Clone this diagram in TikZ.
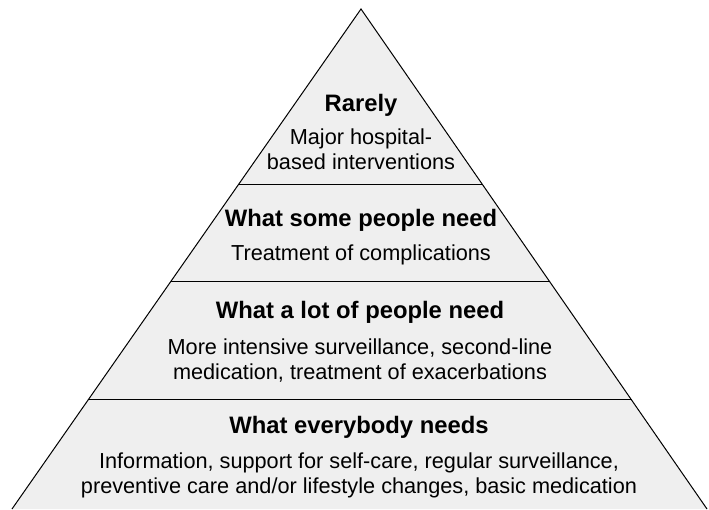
\documentclass[tikz,border=0pt]{standalone}
\usepackage{fontspec}
\setmainfont{Liberation Sans}
\usetikzlibrary{calc}
\definecolor{pyrfill}{RGB}{239,239,239}

\begin{document}
\begin{tikzpicture}[
  x=1pt,y=-1pt,
  head/.style={anchor=base,inner sep=0pt,font=\fontsize{23.8}{28}\selectfont\bfseries},
  desc/.style={anchor=base,inner sep=0pt,align=center,font=\fontsize{21.7}{25}\selectfont},
  edge/.style={line width=1pt}
]
  \useasboundingbox (0,0) rectangle (709,510);
  \coordinate (apex) at (361,9);
  \coordinate (bl) at (12,509);
  \coordinate (br) at (707,509);
  \fill[pyrfill] (bl) -- (apex) -- (br) -- cycle;
  \draw[edge,line join=miter] (bl) -- (apex) -- (br);
  % band separators
  \foreach \t in {0.35,0.544,0.782}
    \draw[edge] ($(apex)!\t!(bl)$) -- ($(apex)!\t!(br)$);

  % base anchor of a two-line node sits on its last line
  \node[head] (rarely) at (361,112) {Rarely};
  \node[desc] (major) at (361,170) {Major hospital-\\based interventions};
  \node[head] (some) at (361,227) {What some people need};
  \node[desc] (compl) at (361,261) {Treatment of complications};
  \node[head] (lot) at (360,319) {What a lot of people need};
  \node[desc] (intens) at (360,379) {More intensive surveillance, second-line\\medication, treatment of exacerbations};
  \node[head] (every) at (359,433) {What everybody needs};
  \node[desc] (info) at (359,493) {Information, support for self-care, regular surveillance,\\preventive care and/or lifestyle changes, basic medication};
\end{tikzpicture}
\end{document}
